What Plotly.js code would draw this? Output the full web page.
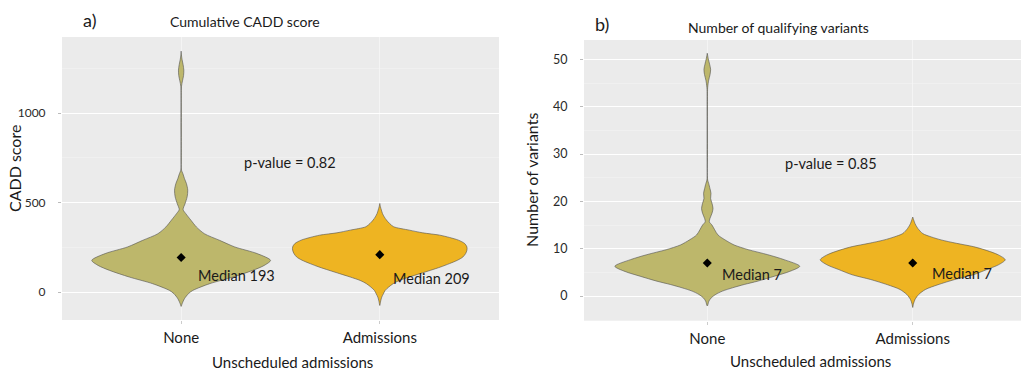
<!DOCTYPE html>
<html>
<head>
<meta charset="utf-8">
<script src="https://cdn.plot.ly/plotly-3.0.1.min.js"></script>
<style>
  html, body { margin: 0; padding: 0; background: #ffffff; }
  #chart { width: 1021px; height: 371px; }
</style>
</head>
<body>
<div id="chart"></div>
<script>
// Groups on the x axis
const groups = ['None', 'Admissions'];

// Cumulative CADD score: violin outline per group (score level, relative half-width)
const caddNoneLevels = [-80, -65, -37, -9, 9, 47, 84, 121, 149, 177, 215, 252, 289, 326, 364, 401, 438, 461, 494, 532, 569, 606, 634, 662, 681, 750, 900, 1100, 1150, 1180, 1210, 1240, 1270, 1300, 1325, 1346];
const caddNoneWidths = [0, 0.011, 0.037, 0.081, 0.13, 0.32, 0.58, 0.8, 0.93, 1.0, 0.85, 0.6, 0.43, 0.26, 0.17, 0.11, 0.052, 0.022, 0.044, 0.067, 0.074, 0.059, 0.037, 0.019, 0.004, 0.002, 0.002, 0.002, 0.004, 0.015, 0.027, 0.03, 0.022, 0.01, 0.003, 0];
const caddAdmLevels = [-75, -50, -28, -10, 9, 28, 47, 65, 84, 103, 122, 140, 159, 178, 196, 215, 234, 252, 271, 290, 305, 318, 331, 346, 365, 383, 402, 420, 439, 458, 477, 495];
const caddAdmWidths = [0, 0.01, 0.022, 0.04, 0.06, 0.1, 0.15, 0.22, 0.33, 0.45, 0.57, 0.68, 0.78, 0.87, 0.93, 0.96, 0.975, 0.975, 0.95, 0.88, 0.78, 0.67, 0.48, 0.33, 0.155, 0.11, 0.075, 0.05, 0.03, 0.018, 0.007, 0];

// Number of qualifying variants: violin outline per group
const varNoneLevels = [-2.1, -1.05, -0.35, 0.35, 1.05, 1.75, 2.45, 3.15, 4.2, 5.2, 6.3, 7.7, 8.74, 9.8, 10.8, 11.9, 12.9, 14.0, 15.0, 15.7, 16.4, 17.5, 18.5, 19.6, 20.6, 21.7, 22.7, 23.8, 24.5, 30, 40, 44, 45.6, 46.8, 47.9, 49, 50.2, 51.3];
const varNoneWidths = [0, 0.018, 0.044, 0.091, 0.164, 0.273, 0.4, 0.545, 0.727, 0.89, 1.0, 0.83, 0.655, 0.444, 0.29, 0.19, 0.116, 0.08, 0.051, 0.022, 0.029, 0.051, 0.062, 0.051, 0.036, 0.04, 0.029, 0.015, 0.004, 0.002, 0.002, 0.004, 0.015, 0.03, 0.036, 0.025, 0.01, 0];
const varAdmLevels = [-2.4, -1.7, -0.7, 0.35, 1.4, 2.4, 3.5, 4.5, 5.6, 6.6, 7.67, 8.7, 9.76, 10.45, 11.15, 11.85, 12.5, 13.2, 14.3, 15.3, 16.7];
const varAdmWidths = [0, 0.007, 0.025, 0.065, 0.138, 0.273, 0.455, 0.655, 0.8, 0.927, 1.0, 0.927, 0.78, 0.655, 0.473, 0.31, 0.2, 0.109, 0.055, 0.025, 0];

// Medians and test results
const caddMedians = [193, 209];
const variantMedians = [7, 7];
const caddPValue = 0.82;
const variantPValue = 0.85;

// Styling
const groupColors = ['#BDB76B', '#EEB422'];
const outlineColor = 'rgba(80,80,80,0.85)';
const maxHalfWidth = 0.45;
const FONT = 'Lato, "Open Sans", sans-serif';

// Mirror a density profile around the group's position to get a closed outline
function violinTrace(pos, levels, widths, color, xa, ya) {
  const xs = [], ys = [];
  for (let i = 0; i < levels.length; i++) {
    xs.push(pos + widths[i] * maxHalfWidth);
    ys.push(levels[i]);
  }
  for (let i = levels.length - 1; i >= 0; i--) {
    xs.push(pos - widths[i] * maxHalfWidth);
    ys.push(levels[i]);
  }
  return {
    type: 'scatter', mode: 'lines', x: xs, y: ys,
    xaxis: xa, yaxis: ya,
    fill: 'toself', fillcolor: color,
    line: { color: outlineColor, width: 0.7, shape: 'spline', smoothing: 0.8 },
    hoverinfo: 'skip', showlegend: false
  };
}

function medianTrace(medians, xa, ya) {
  return {
    type: 'scatter', mode: 'markers',
    x: groups.map((g, i) => i + 1), y: medians,
    xaxis: xa, yaxis: ya,
    marker: { symbol: 'diamond', size: 7, color: '#000000' },
    hoverinfo: 'skip', showlegend: false
  };
}

const traces = [
  violinTrace(1, caddNoneLevels, caddNoneWidths, groupColors[0], 'x', 'y'),
  violinTrace(2, caddAdmLevels, caddAdmWidths, groupColors[1], 'x', 'y'),
  medianTrace(caddMedians, 'x', 'y'),
  violinTrace(1, varNoneLevels, varNoneWidths, groupColors[0], 'x2', 'y2'),
  violinTrace(2, varAdmLevels, varAdmWidths, groupColors[1], 'x2', 'y2'),
  medianTrace(variantMedians, 'x2', 'y2')
];

function xAxis(domain, range) {
  return {
    domain: domain, range: range,
    tickvals: groups.map((g, i) => i + 1), ticktext: groups,
    showgrid: true, gridcolor: '#f6f6f6', gridwidth: 0.8,
    zeroline: false, showline: false,
    ticks: 'outside', ticklen: 3, tickcolor: '#cccccc',
    ticklabelstandoff: 1,
    tickfont: { family: FONT, size: 15, color: '#1a1a1a' },
    fixedrange: true
  };
}

function yAxis(domain, range, dtick, minorDtick, fontSize, standoff) {
  return {
    domain: domain, range: range, dtick: dtick, tick0: 0,
    showgrid: true, gridcolor: '#ffffff', gridwidth: 1,
    minor: { dtick: minorDtick, showgrid: true, gridcolor: '#f3f3f3', gridwidth: 0.6 },
    zeroline: false, showline: false,
    ticks: 'outside', ticklen: 3, tickcolor: '#bbbbbb',
    ticklabelstandoff: standoff,
    tickfont: { family: FONT, size: fontSize, color: '#2a2a2a' },
    fixedrange: true
  };
}

function paperText(text, x, y, size, extra) {
  return Object.assign({
    text: text, xref: 'paper', yref: 'paper', x: x, y: y,
    xanchor: 'center', yanchor: 'middle', showarrow: false,
    font: { family: FONT, size: size, color: '#1a1a1a' }
  }, extra || {});
}

function medianLabel(pos, value, xa, ya, dx, dy) {
  return {
    text: 'Median ' + value, xref: xa, yref: ya, x: pos, y: value,
    xanchor: 'left', yanchor: 'middle', xshift: dx, yshift: dy, showarrow: false,
    font: { family: FONT, size: 14.5, color: '#1a1a1a' }
  };
}

const annotations = [
  paperText('a)', 0.0877, 0.945, 18),
  paperText('Cumulative CADD score', 0.24, 0.943, 14),
  paperText('b)', 0.5896, 0.934, 18),
  paperText('Number of qualifying variants', 0.762, 0.927, 14),
  paperText('CADD score', 0.0137, 0.547, 16, { textangle: -90 }),
  paperText('Number of variants', 0.521, 0.515, 16, { textangle: -90 }),
  paperText('Unscheduled admissions', 0.286, 0.024, 15),
  paperText('Unscheduled admissions', 0.794, 0.026, 15),
  {
    text: 'p-value = ' + caddPValue, xref: 'x', yref: 'y', x: 1.55, y: 726,
    showarrow: false, font: { family: FONT, size: 14.5, color: '#1a1a1a' }
  },
  {
    text: 'p-value = ' + variantPValue, xref: 'x2', yref: 'y2', x: 1.6, y: 28.1,
    showarrow: false, font: { family: FONT, size: 14.5, color: '#1a1a1a' }
  },
  medianLabel(1, caddMedians[0], 'x', 'y', 15, -18),
  medianLabel(2, caddMedians[1], 'x', 'y', 11, -24),
  medianLabel(1, variantMedians[0], 'x2', 'y2', 13, -12),
  medianLabel(2, variantMedians[1], 'x2', 'y2', 17, -11)
];

const layout = {
  width: 1021, height: 371,
  margin: { l: 0, r: 0, t: 0, b: 0 },
  paper_bgcolor: '#ffffff',
  plot_bgcolor: '#EBEBEB',
  showlegend: false,
  xaxis: xAxis([0.0607, 0.4887], [0.4, 2.6]),
  yaxis: yAxis([0.1375, 0.9003], [-156, 1425], 500, 250, 12, 10),
  xaxis2: Object.assign(xAxis([0.572, 1.0], [0.4, 2.527]), { anchor: 'y2' }),
  yaxis2: Object.assign(yAxis([0.1356, 0.8922], [-5.2, 54.1], 10, 5, 12.5, 10), { anchor: 'x2' }),
  annotations: annotations
};

Plotly.newPlot('chart', traces, layout, { staticPlot: true, displayModeBar: false });
</script>
</body>
</html>
